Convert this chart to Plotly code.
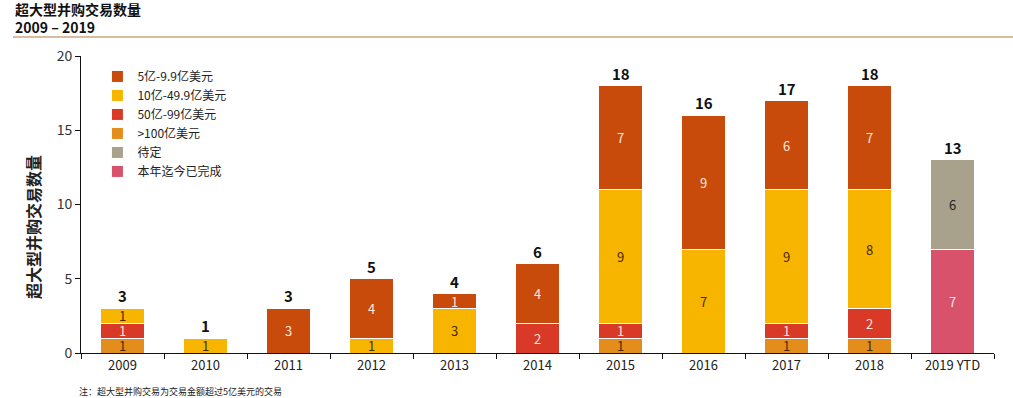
import plotly.graph_objects as go

years = ["2009", "2010", "2011", "2012", "2013", "2014", "2015", "2016", "2017", "2018", "2019 YTD"]
over100 = [1, 0, 0, 0, 0, 0, 1, 0, 1, 1, 0]
b50_99 = [1, 0, 0, 0, 0, 2, 1, 0, 1, 2, 0]
b10_49 = [1, 1, 0, 1, 3, 0, 9, 7, 9, 8, 0]
b5_9 = [0, 0, 3, 4, 1, 4, 7, 9, 6, 7, 0]
completed = [0, 0, 0, 0, 0, 0, 0, 0, 0, 0, 7]
pending = [0, 0, 0, 0, 0, 0, 0, 0, 0, 0, 6]
totals = [3, 1, 3, 5, 4, 6, 18, 16, 17, 18, 13]

FONT = "Noto Sans CJK SC, Microsoft YaHei, sans-serif"

# (name, values, color, label color, legend rank) in stacking order bottom->top
series = [
    (">100亿美元", over100, "#E38D1C", "#4a2a00", 4),
    ("50亿-99亿美元", b50_99, "#D93A27", "#FBE3DD", 3),
    ("10亿-49.9亿美元", b10_49, "#F7B500", "#4a2a00", 2),
    ("5亿-9.9亿美元", b5_9, "#C94B0B", "#FBE7DA", 1),
    ("本年迄今已完成", completed, "#D8526B", "#FBE3E8", 6),
    ("待定", pending, "#A8A28C", "#222222", 5),
]

fig = go.Figure()
for name, vals, color, tcolor, rank in series:
    y = [v if v else None for v in vals]
    txt = [str(v) if v else "" for v in vals]
    fig.add_trace(go.Bar(
        x=years, y=y, name=name, text=txt,
        textposition="inside", insidetextanchor="middle", textangle=0,
        constraintext="none",
        textfont=dict(color=tcolor, size=13, family=FONT),
        marker=dict(color=color, line=dict(color="white", width=1)),
        legendrank=rank, cliponaxis=False,
    ))

for i, t in enumerate(totals):
    fig.add_annotation(x=i, y=t, text=f"<b>{t}</b>", showarrow=False,
                       yanchor="bottom", yshift=0,
                       font=dict(size=15, color="#111", family=FONT))

fig.add_annotation(xref="paper", yref="paper", x=-0.0526, y=0.424, text="<b>超大型并购交易数量</b>",
                   textangle=-90, showarrow=False, xanchor="center", yanchor="middle",
                   font=dict(size=16, color="#222", family=FONT))
fig.add_annotation(xref="paper", yref="paper", x=-0.004, y=-0.1, text="注：超大型并购交易为交易金额超过5亿美元的交易",
                   showarrow=False, xanchor="left", yanchor="top",
                   font=dict(size=9, color="#222", family=FONT))
fig.add_annotation(xref="paper", yref="paper", x=-0.0745, y=1.2, text="<b>超大型并购交易数量</b><br><b>2009 – 2019</b>",
                   showarrow=False, xanchor="left", yanchor="top", align="left",
                   font=dict(size=14, color="#111", family=FONT))
fig.add_shape(type="line", xref="paper", yref="paper", x0=-0.0745, x1=1.021, y0=1.064, y1=1.064,
              line=dict(color="#B07A45", width=1.2))

fig.update_layout(
    width=1013, height=398,
    margin=dict(l=81, r=19, t=56, b=45),
    barmode="stack", bargap=0.47,
    plot_bgcolor="white", paper_bgcolor="white",
    font=dict(family=FONT, color="#222"),
    legend=dict(x=0.018, y=0.98, xanchor="left", yanchor="top", traceorder="normal",
                font=dict(size=12, color="#222", family=FONT),
                bgcolor="rgba(0,0,0,0)", itemwidth=30, tracegroupgap=0),
    showlegend=True,
)
fig.update_xaxes(type="category", showline=True, linecolor="#111", linewidth=1,
                 ticks="outside", tickson="boundaries", ticklen=5, tickcolor="#111",
                 tickfont=dict(size=13, color="#222", family=FONT), showgrid=False)
fig.update_yaxes(range=[0, 20], dtick=5, showline=True, linecolor="#111", linewidth=1,
                 ticks="outside", ticklen=5, tickcolor="#111", showgrid=False, zeroline=False,
                 tickfont=dict(size=14, color="#333", family=FONT))

fig.write_html("out.html", config={"displayModeBar": False},
               post_script="document.body.style.margin='0';document.body.style.overflow='hidden';")
